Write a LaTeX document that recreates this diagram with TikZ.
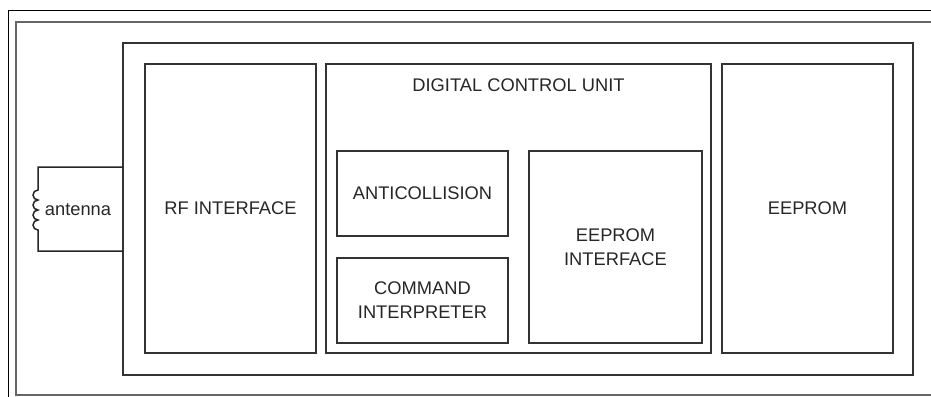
\documentclass[tikz,border=0pt]{standalone}
\usepackage{fontspec}
\setmainfont{Liberation Sans}
\begin{document}
\begin{tikzpicture}[x=1pt,y=-1pt,
  blk/.style={draw=black!80, line width=2.8pt, outer sep=0pt, inner sep=0pt, align=center,
    text=black!85, font=\fontsize{18.3}{24}\selectfont},
  wire/.style={draw=black!85, line width=1.5pt}]
\useasboundingbox (0,0) rectangle (931,396);
\clip (0,0) rectangle (931,396);
% screenshot frames
\draw[black, line width=1pt] (8,11) rectangle (960,430);
\draw[black!60, line width=2pt] (16,22) rectangle (960,395);

\node[blk, minimum width=790, minimum height=332] (chip) at (518,209) {};
\node[blk, minimum width=171, minimum height=289] (rf) at (230.5,208.5) {RF INTERFACE};
\node[blk, minimum width=385, minimum height=289] (dcu) at (518.5,208.5) {};
\node[blk, minimum width=171, minimum height=289] (eeprom) at (807.5,208.5) {EEPROM};
\node[blk, draw=none] (dculbl) at (518.5,85) {DIGITAL CONTROL UNIT};
\node[blk, minimum width=171, minimum height=85] (anti) at (422.5,193.5) {ANTICOLLISION};
\node[blk, minimum width=171, minimum height=85] (cmd) at (422.5,300.5) {COMMAND\\INTERPRETER};
\node[blk, minimum width=173, minimum height=192] (eei) at (615.5,247) {EEPROM\\INTERFACE};

% antenna
\coordinate (wt) at (chip.west |- 0,167);
\coordinate (wb) at (chip.west |- 0,251);
\coordinate (ct) at (38,190);
\coordinate (cb) at (38,230);
\node[blk, draw=none] (antlbl) at (78,210) {antenna};
\draw[wire] (wt) -| (ct)
  arc[start angle=270, end angle=90, radius=5]
  arc[start angle=270, end angle=90, radius=5]
  arc[start angle=270, end angle=90, radius=5]
  arc[start angle=270, end angle=90, radius=5] -- (cb) |- (wb);
\end{tikzpicture}
\end{document}
